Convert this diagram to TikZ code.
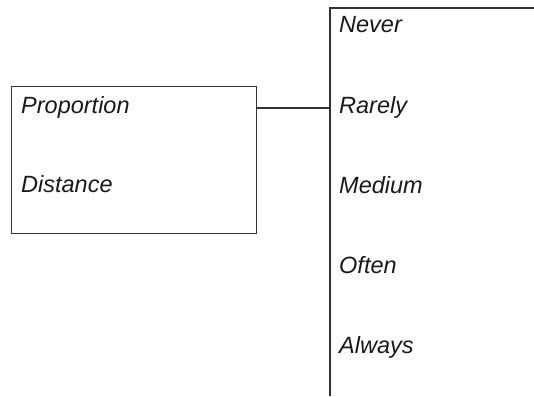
\documentclass[tikz,border=0pt]{standalone}
\usepackage{fontspec}
\setmainfont{Liberation Sans}
\begin{document}
\begin{tikzpicture}[x=1pt,y=-1pt,
  ln/.style={draw=black!80,line width=1.1pt},
  lbl/.style={anchor=base west,inner sep=0pt,text=black!90,font=\fontsize{23.5}{28}\selectfont\itshape}]
\useasboundingbox (0,0) rectangle (534,396);
\node[ln,minimum width=245pt,minimum height=147pt,inner sep=0pt,anchor=north west] (box) at (11,86) {};
\node[lbl] (prop) at (21,113) {Proportion};
\node[lbl] (dist) at (21,192) {Distance};
\coordinate (sctop) at (330,8);
\coordinate (scbot) at (330,396);
\coordinate (scright) at (534,8);
\coordinate (join) at (330,108);
\draw[ln] (scright) -- (sctop) -- (scbot);
\draw[ln] (box.east |- join) -- (join);
\node[lbl] (never) at (339,33) {Never};
\node[lbl] (rarely) at (339,113) {Rarely};
\node[lbl] (medium) at (339,193) {Medium};
\node[lbl] (often) at (339,273) {Often};
\node[lbl] (always) at (339,353) {Always};
\end{tikzpicture}
\end{document}
